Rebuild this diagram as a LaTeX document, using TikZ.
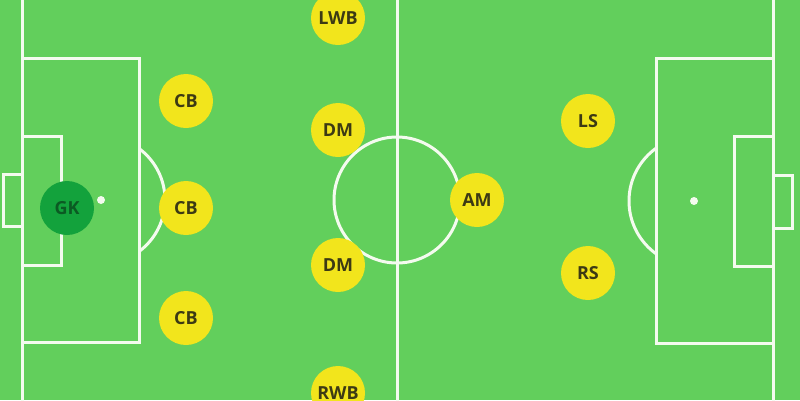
\documentclass[tikz,border=0pt]{standalone}
\usepackage{fontspec}
\setmainfont{Open Sans}
\definecolor{pitch}{HTML}{62CF5C}
\definecolor{pline}{HTML}{F4FBEF}
\definecolor{pyellow}{HTML}{F2E51C}
\definecolor{ptext}{HTML}{3C3A14}
\definecolor{gkfill}{HTML}{13A23C}
\definecolor{gktext}{HTML}{0B5A23}
\begin{document}
\begin{tikzpicture}[x=1pt,y=-1pt,
  pitchline/.style={draw=pline,line width=3pt},
  player/.style={circle,fill=pyellow,minimum size=54pt,inner sep=0pt,text=ptext,font=\fontsize{18}{18}\selectfont\bfseries},
  keeper/.style={player,fill=gkfill,text=gktext}]
\useasboundingbox (0,0) rectangle (800,400);
\fill[pitch] (0,0) rectangle (800,400);
\begin{scope}[pitchline]
% left side
\draw (22,-5) -- (22,405);
\draw (22,58) -- (139,58) -- (139,342) -- (22,342);
\draw (22,136) -- (61,136) -- (61,265) -- (22,265);
\draw (22,174) -- (3,174) -- (3,226) -- (22,226);
\begin{scope}
\clip (139,0) rectangle (220,400);
\draw (101,200) circle[radius=64];
\end{scope}
% right side
\draw (773,-5) -- (773,405);
\draw (773,58) -- (656,58) -- (656,343) -- (773,343);
\draw (773,136) -- (734,136) -- (734,266) -- (773,266);
\draw (773,175) -- (792,175) -- (792,228) -- (773,228);
\begin{scope}
\clip (580,0) rectangle (656,400);
\draw (694,201) circle[radius=65];
\end{scope}
% halfway
\draw (397,-5) -- (397,405);
\draw (397,200) circle[radius=63];
\end{scope}
\fill[pline] (101,200) circle[radius=4];
\fill[pline] (694,201) circle[radius=4];
\node[keeper] (gk) at (67,208) {GK};
\node[player] (cb1) at (186,101) {CB};
\node[player] (cb2) at (186,208) {CB};
\node[player] (cb3) at (186,318) {CB};
\node[player] (lwb) at (338,18) {LWB};
\node[player] (dm1) at (338,130) {DM};
\node[player] (dm2) at (338,265) {DM};
\node[player] (rwb) at (338,393) {RWB};
\node[player] (am) at (477,200) {AM};
\node[player] (ls) at (588,121) {LS};
\node[player] (rs) at (588,273) {RS};
\end{tikzpicture}
\end{document}
